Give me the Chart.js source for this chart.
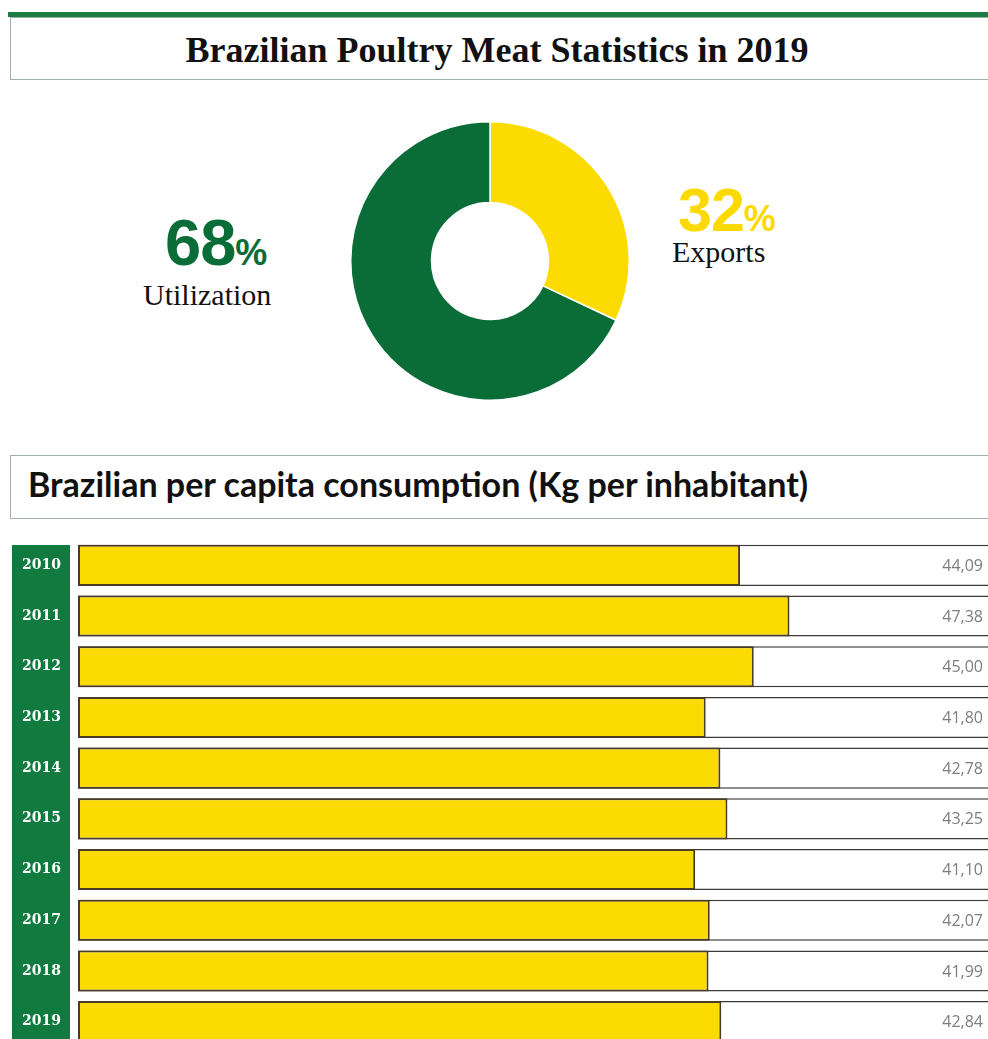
<!DOCTYPE html>
<html>
<head>
<meta charset="utf-8">
<title>Brazilian Poultry Meat Statistics in 2019</title>
<script src="https://cdn.jsdelivr.net/npm/chart.js@4.4.1/dist/chart.umd.min.js"></script>
<style>
html, body { margin: 0; padding: 0; width: 988px; height: 1039px; overflow: hidden; background: #fff; }
.abs { position: absolute; }
.topline { left: 8px; top: 12px; width: 990px; height: 5px; background: #1b7b43; }
.box { left: 10px; width: 990px; border: 1px solid #9db3a6; border-right: none; box-sizing: border-box; }
.title1 { left: 0; width: 994px; top: 32px; text-align: center; font: bold 36px "Liberation Serif", "Times New Roman", serif; line-height: 36px; color: #111; }
.title2 { left: 28px; top: 467px; font: bold 34px Lato, "Open Sans", sans-serif; line-height: 34px; color: #111; white-space: nowrap; }
.pct { font: bold 65px "Liberation Sans", Arial, sans-serif; line-height: 65px; letter-spacing: -1px; white-space: nowrap; }
.pct span { font-size: 36px; letter-spacing: 0; }
.lbl { font: 30px "Liberation Serif", "Times New Roman", serif; line-height: 30px; color: #111; white-space: nowrap; }
</style>
</head>
<body>
<div class="abs topline"></div>
<div class="abs box" style="top:17px;height:63px;"></div>
<div class="abs title1">Brazilian Poultry Meat Statistics in 2019</div>

<canvas id="donut" class="abs" style="left:350px;top:121px;" width="280" height="280"></canvas>
<div class="abs pct" style="left:165px;top:210px;color:#0a6d37;">68<span>%</span></div>
<div class="abs lbl" style="left:143px;top:280px;">Utilization</div>
<div class="abs pct" style="left:678px;top:180px;color:#fcd900;font-size:61px;line-height:61px;">32<span>%</span></div>
<div class="abs lbl" style="left:672px;top:237px;">Exports</div>

<div class="abs box" style="top:455px;height:64px;"></div>
<div class="abs title2">Brazilian per capita consumption (Kg per inhabitant)</div>

<canvas id="bars" class="abs" style="left:0;top:540px;" width="1000" height="507"></canvas>

<script>
// datos del grafico
const shareLabels = ['Exports', 'Utilization'];
const shareValues = [32, 68];

const years = ['2010', '2011', '2012', '2013', '2014', '2015', '2016', '2017', '2018', '2019'];
const consumption = [44.09, 47.38, 45.00, 41.80, 42.78, 43.25, 41.10, 42.07, 41.99, 42.84];

const GREEN = '#0a6d37';
const YELLOW = '#fcdb00';
const X_MAX = 61.4;

Chart.defaults.animation = false;
Chart.defaults.plugins.legend.display = false;
Chart.defaults.plugins.tooltip.enabled = false;

// Dona (exportaciones / uso interno)
new Chart(document.getElementById('donut').getContext('2d'), {
  type: 'doughnut',
  data: {
    labels: shareLabels,
    datasets: [{
      data: shareValues,
      backgroundColor: [YELLOW, GREEN],
      borderColor: '#ffffff',
      borderWidth: 1.5
    }]
  },
  options: {
    responsive: false,
    cutout: '42%',
    rotation: 0,
    layout: { padding: 0 }
  }
});

// franja verde detras de los años
const greenStrip = {
  id: 'greenStrip',
  beforeDraw(chart) {
    const ctx = chart.ctx;
    ctx.save();
    ctx.fillStyle = '#117a3e';
    ctx.fillRect(12, 5, 58, chart.height);
    ctx.restore();
  }
};

// valores a la derecha de cada fila
const valueLabels = {
  id: 'valueLabels',
  afterDatasetsDraw(chart) {
    const ctx = chart.ctx;
    const meta = chart.getDatasetMeta(0);
    ctx.save();
    ctx.font = '16px "Open Sans", sans-serif';
    ctx.fillStyle = '#7d7d7d';
    ctx.textAlign = 'right';
    ctx.textBaseline = 'middle';
    meta.data.forEach((bar, i) => {
      ctx.fillText(consumption[i].toFixed(2).replace('.', ','), 983, bar.y + 1);
    });
    ctx.restore();
  }
};

new Chart(document.getElementById('bars').getContext('2d'), {
  type: 'bar',
  data: {
    labels: years,
    datasets: [
      {
        label: 'Kg per inhabitant',
        data: consumption,
        backgroundColor: YELLOW,
        borderColor: '#4a3a28',
        borderWidth: 2,
        borderSkipped: false,
        grouped: false,
        barPercentage: 0.81,
        categoryPercentage: 1
      },
      {
        label: 'track',
        data: years.map(() => X_MAX),
        backgroundColor: '#ffffff',
        borderColor: '#3a3a3a',
        borderWidth: 1.5,
        borderSkipped: false,
        grouped: false,
        barPercentage: 0.81,
        categoryPercentage: 1
      }
    ]
  },
  options: {
    indexAxis: 'y',
    responsive: false,
    layout: { padding: 0 },
    scales: {
      x: { display: false, min: 0, max: X_MAX },
      y: {
        grid: { display: false, drawTicks: false },
        border: { display: false },
        ticks: {
          color: '#ffffff',
          font: { family: '"DejaVu Serif", serif', weight: 'bold', size: 14 },
          padding: 17
        },
        afterFit(scale) {
          // sin relleno vertical extra por el padding de los ticks
          scale.width = 78;
          scale.paddingTop = 0;
          scale.paddingBottom = 0;
        }
      }
    }
  },
  plugins: [greenStrip, valueLabels]
});
</script>
</body>
</html>
